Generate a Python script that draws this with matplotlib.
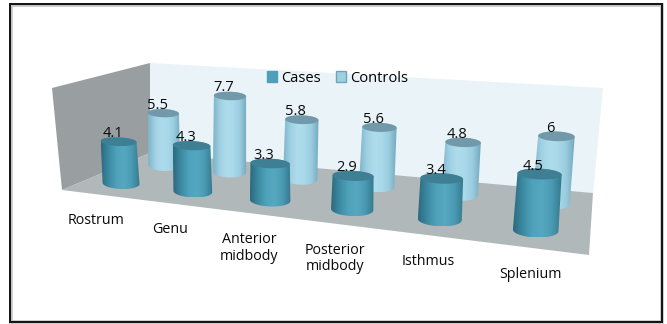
import numpy as np
import matplotlib
matplotlib.use("Agg")
import matplotlib.pyplot as plt
from matplotlib.colors import LinearSegmentedColormap
from matplotlib.patches import Patch, Polygon, PathPatch, Rectangle
from matplotlib.path import Path

regions = ["Rostrum", "Genu", "Anterior\nmidbody", "Posterior\nmidbody", "Isthmus", "Splenium"]
cases = [4.1, 4.3, 3.3, 2.9, 3.4, 4.5]
controls = [5.5, 7.7, 5.8, 5.6, 4.8, 6]

W, H = 667, 324
plt.rcParams["font.family"] = ["Open Sans", "DejaVu Sans"]

fig = plt.figure(figsize=(W / 100, H / 100), dpi=100, facecolor="white")
ax = fig.add_axes([0, 0, 1, 1])
ax.set_xlim(0, W)
ax.set_ylim(H, 0)
ax.axis("off")
ax.set_autoscale_on(False)

# Perspective of the chart floor: category position x (0..6), depth d (0..1)
floor_src = np.array([[0, 0], [6, 0], [0, 1], [6, 1]], float)
floor_dst = np.array([[62, 190], [589, 255], [150, 153], [593, 193]], float)
A = []
for (u, v), (px, py) in zip(floor_src, floor_dst):
    A.append([u, v, 1, 0, 0, 0, -u * px, -v * px, -px])
    A.append([0, 0, 0, u, v, 1, -u * py, -v * py, -py])
homography = np.linalg.svd(np.array(A))[2][-1].reshape(3, 3)
corner_scale = np.array([[10.2, 13.5], [9.0, 10.5]])  # px per unit at floor corners
corner_lean = np.array([[-1.0, 1.0], [0.0, 1.0]])     # sideways px per unit at floor corners
Z_TOP = 10.0


def corner_mix(table, x, d):
    t = x / 6
    return ((1 - d) * ((1 - t) * table[0, 0] + t * table[0, 1])
            + d * ((1 - t) * table[1, 0] + t * table[1, 1]))


def unit_height(x, d):
    return corner_mix(corner_scale, x, d)


def project(x, d, z=0.0):
    p = homography @ np.array([x, d, 1.0])
    sx, sy = p[0] / p[2], p[1] / p[2]
    return np.array([sx + z * corner_mix(corner_lean, x, d), sy - z * unit_height(x, d)])


def slot(i, lead, bow):
    # Place a category along the floor, easing the perspective spacing a little
    return i + lead + bow * np.sin(np.pi * i / 4.5)


# Walls and floor
def quad(points, color, z):
    ax.add_patch(Polygon(points, closed=True, fc=color, ec="none", zorder=z))


quad([project(0, 1), project(6, 1), [603, 88], project(0, 1, Z_TOP)], "#e9f3f8", 1)
quad([project(0, 0), project(0, 1), project(0, 1, Z_TOP), project(0, 0, Z_TOP)], "#999ea0", 1)
quad([project(0, 0), project(6, 0), project(6, 1), project(0, 1)], "#b0b8ba", 2)

case_cmap = LinearSegmentedColormap.from_list(
    "case", ["#2c6b80", "#3c8ba3", "#4fa2bb", "#55a8c0", "#4a9ab3", "#35798e"])
control_cmap = LinearSegmentedColormap.from_list(
    "control", ["#7fb3c8", "#9fd0e3", "#aedcec", "#a9d9ea", "#9accdf", "#74a8bc"])


def ellipse_points(c, rx, ry, theta, t):
    return np.column_stack([
        c[0] + rx * np.cos(t) * np.cos(theta) - ry * np.sin(t) * np.sin(theta),
        c[1] + rx * np.cos(t) * np.sin(theta) + ry * np.sin(t) * np.cos(theta),
    ])


def cylinder(x, d, value, cmap, top_color, zorder, girth):
    s = unit_height(x, d)
    rx, ry = girth * s, 0.43 * s
    base, top = project(x, d), project(x, d, value)
    along = project(x + 0.1, d) - base
    theta = 0.35 * np.arctan2(along[1], along[0])
    lower = ellipse_points(base, rx, ry * 1.3, theta, np.linspace(0, np.pi, 40))
    upper = ellipse_points(top, rx * 0.97, ry, theta, np.linspace(np.pi, 2 * np.pi, 40))
    outline = np.vstack([lower, upper, lower[:1]])
    clip = PathPatch(Path(outline), transform=ax.transData, fc="none", ec="none")
    ax.add_patch(clip)
    lo, hi = outline[:, 0].min(), outline[:, 0].max()
    img = ax.imshow(np.linspace(0, 1, 64)[None, :], cmap=cmap, aspect="auto",
                    extent=(lo, hi, outline[:, 1].max(), outline[:, 1].min()),
                    zorder=zorder, interpolation="bilinear")
    img.set_clip_path(clip)
    cap = ellipse_points(top, rx * 0.97, ry, theta, np.linspace(0, 2 * np.pi, 60))
    ax.add_patch(Polygon(cap, closed=True, fc=top_color, ec="none", zorder=zorder + 0.1))
    ax.text(top[0] - 6, top[1] - 8, f"{value}", ha="center", va="center", fontsize=10.5,
            color="#0a0a0a", zorder=20)


for i, v in enumerate(controls):
    cylinder(slot(i, 0.60, 0.03), 0.72, v, control_cmap, "#7199aa", 3 + i * 0.2, 1.68)
for i, v in enumerate(cases):
    cylinder(slot(i, 0.54, 0.09), 0.25, v, case_cmap, "#3f7f93", 6 + i * 0.2, 1.82)

# Category labels below the front edge of the floor
for i, name in enumerate(regions):
    px, py = project(slot(i, 0.53, 0.07), 0)
    ax.text(px, py + 19, name, ha="center", va="top", fontsize=10.3, color="#0a0a0a",
            linespacing=1.15, zorder=20)

ax.legend(handles=[Patch(fc="#4f9fb8", ec="#4f9fb8", label="Cases"),
                   Patch(fc="#9fd0e0", ec="#6fa5b8", label="Controls")],
          loc="center", bbox_to_anchor=(337.5, 78), bbox_transform=ax.transData,
          ncol=2, frameon=False, fontsize=10.5, handlelength=0.72, handleheight=0.72,
          handletextpad=0.3, columnspacing=1.0, borderpad=0)

# Picture frame
ax.add_patch(Rectangle((10.5, 4.5), 651, 317, fc="none", ec="#555555", lw=2.6, alpha=0.35, zorder=30))
ax.add_patch(Rectangle((9.5, 3.5), 652, 318, fc="none", ec="#111111", lw=1.4, zorder=31))

fig.savefig("out.png", dpi=100)
